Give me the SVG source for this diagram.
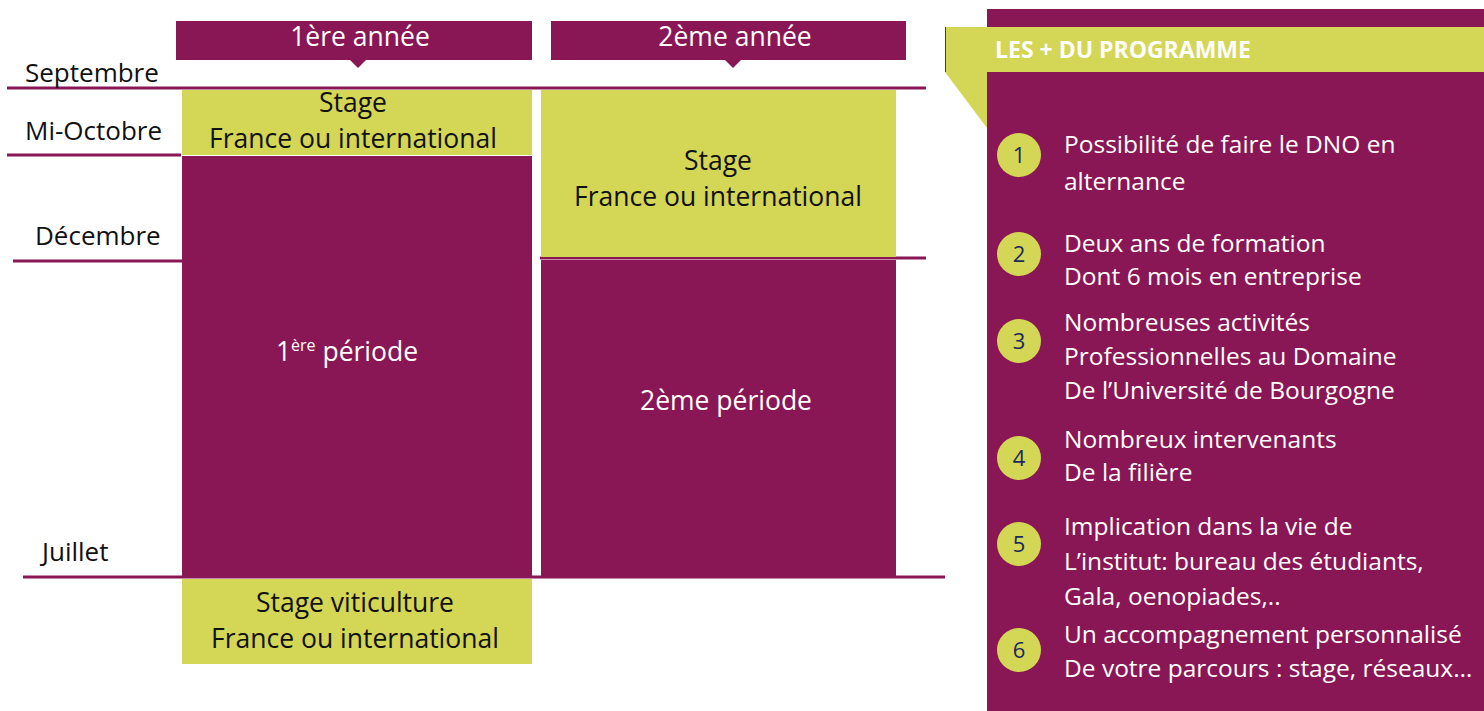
<svg xmlns="http://www.w3.org/2000/svg" width="1484" height="711" viewBox="0 0 1484 711">
<style>
.p{fill:#891655}
.y{fill:#d4d655}
.ln{stroke:#891655;stroke-width:3;fill:none}
text{font-family:"Open Sans","Liberation Sans",Arial,sans-serif}
.mo{font-size:26px;fill:#111}
.bk{font-size:26.5px;fill:#111;text-anchor:middle}
.wh{font-size:26.5px;fill:#fff;text-anchor:middle}
.it{font-size:24.5px;fill:#fff}
.num{font-size:22px;fill:#1b2a5e;text-anchor:middle}
</style>
<rect width="1484" height="711" fill="#fff"/>
<g id="connectors">
<line class="ln" x1="7" y1="88" x2="926" y2="88"/>
<line class="ln" x1="7" y1="155" x2="181" y2="155"/>
<line class="ln" x1="13" y1="261" x2="182" y2="261"/>
<line class="ln" x1="540" y1="258" x2="926" y2="258"/>
<line class="ln" x1="23" y1="577" x2="945" y2="577"/>
</g>
<g id="months">
<text class="mo" x="25" y="82">Septembre</text>
<text class="mo" x="25" y="140">Mi-Octobre</text>
<text class="mo" x="35" y="245">Décembre</text>
<text class="mo" x="42" y="561">Juillet</text>
</g>
<g id="header1">
<rect class="p" x="176" y="21" width="356" height="39"/>
<polygon class="p" points="350,60 366,60 358,68"/>
<text class="wh" x="360" y="46">1ère année</text>
</g>
<g id="header2">
<rect class="p" x="551" y="21" width="355" height="39"/>
<polygon class="p" points="725,60 741,60 733,68"/>
<text class="wh" x="735" y="46">2ème année</text>
</g>
<g id="stage1">
<rect class="y" x="182" y="90" width="350" height="65"/>
<text class="bk" x="353" y="112">Stage</text>
<text class="bk" x="353" y="148">France ou international</text>
</g>
<g id="periode1">
<rect class="p" x="182" y="156" width="350" height="420"/>
<text class="wh" x="347" y="361">1<tspan font-size="16" dy="-10">ère</tspan><tspan dy="10"> période</tspan></text>
</g>
<g id="stage-viti">
<rect class="y" x="182" y="579" width="350" height="85"/>
<text class="bk" x="355" y="612">Stage viticulture</text>
<text class="bk" x="355" y="648">France ou international</text>
</g>
<g id="stage2">
<rect class="y" x="541" y="90" width="355" height="167"/>
<text class="bk" x="718" y="170">Stage</text>
<text class="bk" x="718" y="206">France ou international</text>
</g>
<g id="periode2">
<rect class="p" x="541" y="260" width="355" height="316"/>
<text class="wh" x="726" y="410">2ème période</text>
</g>
<g id="panel">
<rect class="p" x="987" y="9" width="497" height="702"/>
<rect class="y" x="945" y="27" width="539" height="45"/>
<polygon class="y" points="945,72 987,72 987,128"/>
<line x1="945.5" y1="27" x2="945.5" y2="72" stroke="#891655" stroke-width="1"/>
<text x="995" y="58" font-size="23" font-weight="bold" fill="#fff">LES + DU PROGRAMME</text>
</g>
<g id="item1">
<circle class="y" cx="1019" cy="155" r="22"/>
<text class="num" x="1019" y="163">1</text>
<text class="it" x="1064" y="153">Possibilité de faire le DNO en</text>
<text class="it" x="1064" y="190">alternance</text>
</g>
<g id="item2">
<circle class="y" cx="1019" cy="254" r="22"/>
<text class="num" x="1019" y="262">2</text>
<text class="it" x="1064" y="252">Deux ans de formation</text>
<text class="it" x="1064" y="285">Dont 6 mois en entreprise</text>
</g>
<g id="item3">
<circle class="y" cx="1019" cy="341" r="22"/>
<text class="num" x="1019" y="349">3</text>
<text class="it" x="1064" y="331">Nombreuses activités</text>
<text class="it" x="1064" y="365">Professionnelles au Domaine</text>
<text class="it" x="1064" y="399">De l’Université de Bourgogne</text>
</g>
<g id="item4">
<circle class="y" cx="1019" cy="458" r="22"/>
<text class="num" x="1019" y="466">4</text>
<text class="it" x="1064" y="448">Nombreux intervenants</text>
<text class="it" x="1064" y="481">De la filière</text>
</g>
<g id="item5">
<circle class="y" cx="1019" cy="544" r="22"/>
<text class="num" x="1019" y="552">5</text>
<text class="it" x="1064" y="535">Implication dans la vie de</text>
<text class="it" x="1064" y="570">L’institut: bureau des étudiants,</text>
<text class="it" x="1064" y="605">Gala, oenopiades,..</text>
</g>
<g id="item6">
<circle class="y" cx="1019" cy="650" r="22"/>
<text class="num" x="1019" y="658">6</text>
<text class="it" x="1064" y="643">Un accompagnement personnalisé</text>
<text class="it" x="1064" y="677">De votre parcours : stage, réseaux…</text>
</g>
</svg>
